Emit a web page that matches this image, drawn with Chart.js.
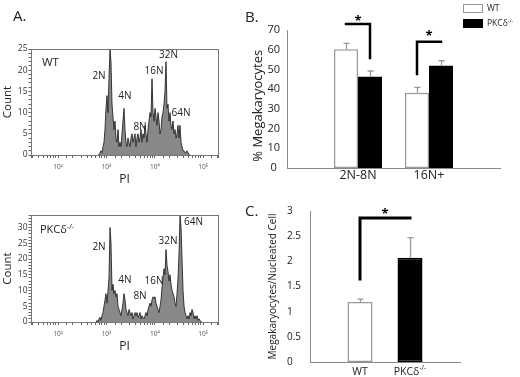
<!DOCTYPE html>
<html>
<head>
<meta charset="utf-8">
<script src="https://cdn.jsdelivr.net/npm/chart.js@4.4.0/dist/chart.umd.min.js"></script>
<style>
  body { margin: 0; background: #fff; }
  #fig { position: relative; width: 520px; height: 377px; overflow: hidden; font-family: 'Open Sans', sans-serif; color: #222; }
  #fig canvas { position: absolute; left: 0; top: 0; }
  .t { position: absolute; white-space: nowrap; line-height: 1; transform: translateY(-50%); }
  .t sup { font-size: 65%; line-height: 0; vertical-align: 0.55em; }
  .box { position: absolute; width: 20px; height: 9px; box-sizing: border-box; }
</style>
</head>
<body>
<div id="fig">
  <canvas id="histWT" width="520" height="377"></canvas>
  <canvas id="histKO" width="520" height="377"></canvas>
  <canvas id="barsB" width="520" height="377"></canvas>
  <canvas id="barsC" width="520" height="377"></canvas>

  <div class="t" style="left:13px;top:15px;font-size:15px">A.</div>
  <div class="t" style="left:245px;top:16px;font-size:15px">B.</div>
  <div class="t" style="left:245px;top:210px;font-size:15px">C.</div>
  <div class="t" style="left:42px;top:62px;font-size:11.5px">WT</div>
  <div class="t" style="left:40px;top:228px;font-size:11px">PKCδ<sup>-/-</sup></div>
  <div id="legend"></div>
</div>

<script>
Chart.defaults.font.family = "'Open Sans', sans-serif";
Chart.defaults.color = '#222';

// ---------- panel A: PI histograms (one value per channel) ----------
const binStep = 0.0207;      // log10 width of a channel
const wtStartLog = 2.824;    // first channel shown, WT
const koStartLog = 2.783;    // first channel shown, PKCd-/-

const wtCounts = [0, 0, 0.5, 1, 0.5, 2, 3, 6, 11, 14,
  10, 18, 25, 22, 12, 9, 6, 8, 4, 3,
  6, 2, 3, 2, 5, 8, 11, 6, 3, 2,
  4, 3, 2, 4, 5, 3, 4, 5, 2, 4,
  5, 3, 4, 6, 3, 5, 4, 7, 5, 3,
  6, 8, 10, 9, 18, 10, 8, 11, 9, 7,
  10, 8, 5, 6, 9, 10, 12, 15, 22, 11,
  12, 8, 10, 7, 6, 8, 5, 6, 4, 5,
  7, 4, 7, 3, 2, 1, 1, 0.5, 0.5, 1,
  0.5, 0, 0];

const koCounts = [0, 0.5, 0, 1, 1.5, 0.5, 2, 3, 5, 7,
  9, 6, 10, 14, 30, 25, 10, 12, 9, 10,
  8, 9, 5, 4, 3, 2, 4, 6, 9, 7,
  4, 3, 2, 4, 3, 2, 3, 1, 2, 3,
  2, 3, 1.5, 2, 3, 1, 2, 1.5, 1, 2,
  3, 2, 4, 5, 6, 5, 7, 8, 7.5, 8,
  6, 5, 4, 3, 5, 7, 11, 14, 17, 15,
  23, 18, 16, 13, 15, 12, 10, 9, 8, 6,
  5, 9, 14, 22, 34, 30, 20, 10, 5, 3,
  2, 1, 2, 1, 3, 2, 4, 3, 1, 2,
  1, 2, 0.5, 1, 0.5, 0, 0];

const wtPeakLabels = [['2N', 700, 18.6], ['4N', 2415, 13.9], ['8N', 4940, 6.6],
  ['16N', 9620, 19.8], ['32N', 19230, 23.6], ['64N', 34830, 9.9]];
const koPeakLabels = [['2N', 700, 23.8], ['4N', 2415, 13.3], ['8N', 4940, 8.3],
  ['16N', 9620, 13.0], ['32N', 18750, 25.7], ['64N', 63200, 31.8]];

// ---------- panel B: ploidy distribution ----------
const ploidyGroups = ['', '2N-8N', '16N+', ''];
const seriesNames = ['WT', 'PKCδ-/-'];
const ploidyWT = [null, 60.2, 38.2, null];
const ploidyWTErr = [null, 3.0, 2.7, null];
const ploidyKO = [null, 46.3, 51.9, null];
const ploidyKOErr = [null, 2.9, 2.5, null];

// ---------- panel C: megakaryocytes per nucleated cell ----------
const genotypes = ['', 'WT', 'PKCδ-/-', ''];
const mkRatio = [null, 1.19, 2.07, null];
const mkRatioErr = [null, 0.06, 0.40, null];

const supDigits = { 2: '²', 3: '³', 4: '⁴', 5: '⁵' };

function decadeLabel(v) {
  const e = Math.log10(v);
  return Math.abs(e - Math.round(e)) < 1e-6 ? '10' + (supDigits[Math.round(e)] || '') : '';
}

function splitSup(text) {
  const m = text.match(/^(.*?)(-\/-)$/);
  return m ? [m[1], m[2]] : [text, ''];
}

function drawSupText(ctx, text, x, y, size) {
  const [base, sup] = splitSup(text);
  const f = "'Open Sans', sans-serif";
  ctx.font = size + 'px ' + f;
  const wb = ctx.measureText(base).width;
  ctx.font = (size * 0.65) + 'px ' + f;
  const ws = ctx.measureText(sup).width;
  const x0 = x - (wb + ws) / 2;
  ctx.textAlign = 'left';
  ctx.textBaseline = 'middle';
  ctx.font = size + 'px ' + f;
  ctx.fillText(base, x0, y);
  ctx.font = (size * 0.65) + 'px ' + f;
  ctx.fillText(sup, x0 + wb, y - size * 0.35);
}

const frame = {
  id: 'frame',
  afterDraw(chart) {
    const { ctx, chartArea: a } = chart;
    ctx.save();
    ctx.strokeStyle = '#777';
    ctx.lineWidth = 1;
    ctx.strokeRect(Math.round(a.left) + 0.5, Math.round(a.top) + 0.5, Math.round(a.width), Math.round(a.height));
    ctx.restore();
  }
};

const peakLabels = {
  id: 'peakLabels',
  afterDraw(chart, args, opts) {
    const { ctx, scales: { x, y } } = chart;
    ctx.save();
    ctx.font = "10px 'Open Sans', sans-serif";
    ctx.fillStyle = '#222';
    ctx.textAlign = 'center';
    ctx.textBaseline = 'middle';
    opts.items.forEach(([txt, pi, count]) => {
      ctx.fillText(txt, x.getPixelForValue(pi), y.getPixelForValue(count));
    });
    ctx.restore();
  }
};

const errorBars = {
  id: 'errorBars',
  afterDatasetsDraw(chart) {
    const { ctx } = chart;
    const y = chart.scales.y;
    ctx.save();
    ctx.strokeStyle = '#999';
    ctx.lineWidth = 1.3;
    chart.data.datasets.forEach((ds, d) => {
      chart.getDatasetMeta(d).data.forEach((bar, i) => {
        const v = ds.data[i], e = ds.errors[i];
        if (v == null || e == null) return;
        const x = Math.round(bar.x) + 0.5;
        const top = y.getPixelForValue(v + e);
        ctx.beginPath();
        ctx.moveTo(x, y.getPixelForValue(v));
        ctx.lineTo(x, top);
        ctx.moveTo(x - 3, top);
        ctx.lineTo(x + 3, top);
        ctx.stroke();
      });
    });
    ctx.restore();
  }
};

const brackets = {
  id: 'brackets',
  afterDraw(chart, args, opts) {
    const { ctx } = chart;
    const y = chart.scales.y;
    ctx.save();
    ctx.strokeStyle = '#000';
    ctx.fillStyle = '#000';
    ctx.lineWidth = opts.width;
    ctx.lineCap = 'square';
    opts.items.forEach(b => {
      const xa = chart.getDatasetMeta(b.from[0]).data[b.from[1]].x;
      const xb = chart.getDatasetMeta(b.to[0]).data[b.to[1]].x;
      const yl = y.getPixelForValue(b.level);
      const yd = y.getPixelForValue(b.drop);
      ctx.beginPath();
      if (b.dropAt === 'from') {
        ctx.moveTo(xa, yd); ctx.lineTo(xa, yl); ctx.lineTo(xb, yl);
      } else {
        ctx.moveTo(xa, yl); ctx.lineTo(xb, yl); ctx.lineTo(xb, yd);
      }
      ctx.stroke();
      ctx.font = "bold 13px 'Open Sans', sans-serif";
      ctx.textAlign = 'center';
      ctx.textBaseline = 'alphabetic';
      ctx.fillText('*', (xa + xb) / 2, y.getPixelForValue(b.star) + 8);
    });
    ctx.restore();
  }
};

function histogram(id, startLog, counts, yMax, padding, peaks) {
  const points = counts.map((c, i) => ({ x: Math.pow(10, startLog + i * binStep), y: c }));
  return new Chart(document.getElementById(id), {
    type: 'line',
    data: {
      datasets: [{
        data: points,
        fill: 'origin',
        backgroundColor: '#888',
        borderColor: '#262626',
        borderWidth: 0.9,
        pointRadius: 0,
        tension: 0
      }]
    },
    options: {
      responsive: false,
      devicePixelRatio: 1,
      animation: false,
      layout: { padding },
      plugins: { legend: { display: false }, tooltip: { enabled: false }, peakLabels: { items: peaks } },
      scales: {
        x: {
          type: 'logarithmic',
          min: 27.4,
          max: 203000,
          grid: { drawOnChartArea: false, drawTicks: true, tickLength: 3, color: '#666' },
          border: { display: false },
          ticks: { autoSkip: false, maxRotation: 0, minRotation: 0, padding: 5, font: { size: 6.5 }, color: '#555', callback: v => decadeLabel(v) },
          title: { display: true, text: 'PI', font: { size: 12 }, padding: 0 },
          afterFit: s => { s.height = 32; }
        },
        y: {
          min: 0,
          max: yMax,
          grid: { drawOnChartArea: false, drawTicks: true, tickLength: 2.5, color: '#666' },
          border: { display: false },
          ticks: { stepSize: 1, autoSkip: false, padding: 1, font: { size: 8.5 }, color: '#333', callback: v => (v % 5 === 0 ? v : '') },
          title: { display: true, text: 'Count', font: { size: 11.5 }, padding: { top: 1, bottom: 0 } },
          afterFit: s => { s.width = 31; }
        }
      }
    },
    plugins: [frame, peakLabels]
  });
}

histogram('histWT', wtStartLog, wtCounts, 25, { left: 0, top: 49, right: 302, bottom: 190 }, wtPeakLabels);
histogram('histKO', koStartLog, koCounts, 34, { left: 0, top: 215, right: 302, bottom: 23 }, koPeakLabels);

// panel B
new Chart(document.getElementById('barsB'), {
  type: 'bar',
  data: {
    labels: ploidyGroups,
    datasets: [
      { label: seriesNames[0], data: ploidyWT, errors: ploidyWTErr, backgroundColor: '#fff', borderColor: '#999', borderWidth: 1.5, borderSkipped: false, categoryPercentage: 0.676, barPercentage: 1 },
      { label: seriesNames[1], data: ploidyKO, errors: ploidyKOErr, backgroundColor: '#000', borderColor: '#000', borderWidth: 0, categoryPercentage: 0.676, barPercentage: 1 }
    ]
  },
  options: {
    responsive: false,
    devicePixelRatio: 1,
    animation: false,
    layout: { padding: { left: 250, top: 30, right: 20, bottom: 189 } },
    plugins: {
      legend: { display: false },
      tooltip: { enabled: false },
      brackets: {
        width: 2.5,
        items: [
          { from: [0, 1], to: [1, 1], level: 73, drop: 55.8, dropAt: 'to', star: 76.6 },
          { from: [0, 2], to: [1, 2], level: 64, drop: 47.7, dropAt: 'from', star: 69 }
        ]
      }
    },
    scales: {
      x: {
        offset: false,
        grid: { display: false, drawTicks: false },
        border: { color: '#8a8a8a', width: 1 },
        ticks: { autoSkip: false, maxRotation: 0, minRotation: 0, padding: 0, font: { size: 12.5 }, color: '#222' },
        afterFit: s => { s.height = 20; }
      },
      y: {
        min: 0,
        max: 70,
        grid: { display: false, drawTicks: false },
        border: { color: '#8a8a8a', width: 1 },
        ticks: { stepSize: 10, crossAlign: 'center', padding: 7, font: { size: 11 }, color: '#222' },
        // trailing spaces nudge the rotated title down to where it sits in the figure
        title: { display: true, text: '% Megakaryocytes    ', font: { size: 13 }, padding: { top: 0, bottom: 0 } },
        afterFit: s => { s.width = 37; }
      }
    }
  },
  plugins: [errorBars, brackets]
});

// panel C
const categoryLabels = {
  id: 'categoryLabels',
  afterDraw(chart, args, opts) {
    const { ctx } = chart;
    const x = chart.scales.x;
    ctx.save();
    ctx.fillStyle = '#222';
    chart.data.labels.forEach((lab, i) => {
      if (lab) drawSupText(ctx, lab, x.getPixelForValue(i), opts.y, opts.size);
    });
    ctx.restore();
  }
};

new Chart(document.getElementById('barsC'), {
  type: 'bar',
  data: {
    labels: genotypes,
    datasets: [{
      data: mkRatio,
      errors: mkRatioErr,
      backgroundColor: ['#fff', '#fff', '#000', '#000'],
      borderColor: ['#999', '#999', '#000', '#000'],
      borderWidth: 1.5,
      borderSkipped: false,
      categoryPercentage: 0.5,
      barPercentage: 1
    }]
  },
  options: {
    responsive: false,
    devicePixelRatio: 1,
    animation: false,
    layout: { padding: { left: 267, top: 211, right: 60, bottom: 5 } },
    plugins: {
      legend: { display: false },
      tooltip: { enabled: false },
      categoryLabels: { y: 372, size: 10.5 },
      brackets: {
        width: 3,
        items: [{ from: [0, 1], to: [0, 2], level: 2.86, drop: 1.65, dropAt: 'from', star: 3.02 }]
      }
    },
    scales: {
      x: {
        offset: false,
        grid: { display: false, drawTicks: false },
        border: { color: '#8a8a8a', width: 1 },
        ticks: { display: false },
        afterFit: s => { s.height = 10; }
      },
      y: {
        min: 0,
        max: 3,
        grid: { display: false, drawTicks: false },
        border: { color: '#8a8a8a', width: 1 },
        ticks: { stepSize: 0.5, crossAlign: 'far', font: { size: 10 }, color: '#222', callback: v => String(v) },
        afterFit: s => { s.width = 23; }
      },
      yTitle: {
        type: 'linear',
        position: 'left',
        weight: 1,
        min: 0,
        max: 1,
        grid: { display: false, drawTicks: false },
        border: { display: false },
        ticks: { display: false },
        title: { display: true, text: 'Megakaryocytes/Nucleated Cell', font: { size: 10 }, padding: { top: 0, bottom: 0 } },
        afterFit: s => { s.width = 20; }
      }
    }
  },
  plugins: [errorBars, brackets, categoryLabels]
});

// legend for panel B, built from the series names
const legendColors = [['#fff', '#999'], ['#000', '#000']];
document.getElementById('legend').innerHTML = seriesNames.map((name, i) => {
  const [base, sup] = splitSup(name);
  const top = i === 0 ? 4 : 19;
  return '<div class="box" style="left:463px;top:' + top + 'px;background:' + legendColors[i][0] +
    ';border:1.5px solid ' + legendColors[i][1] + '"></div>' +
    '<div class="t" style="left:487px;top:' + (top + 4) + 'px;font-size:8.5px">' + base +
    (sup ? '<sup>' + sup + '</sup>' : '') + '</div>';
}).join('');
</script>
</body>
</html>
